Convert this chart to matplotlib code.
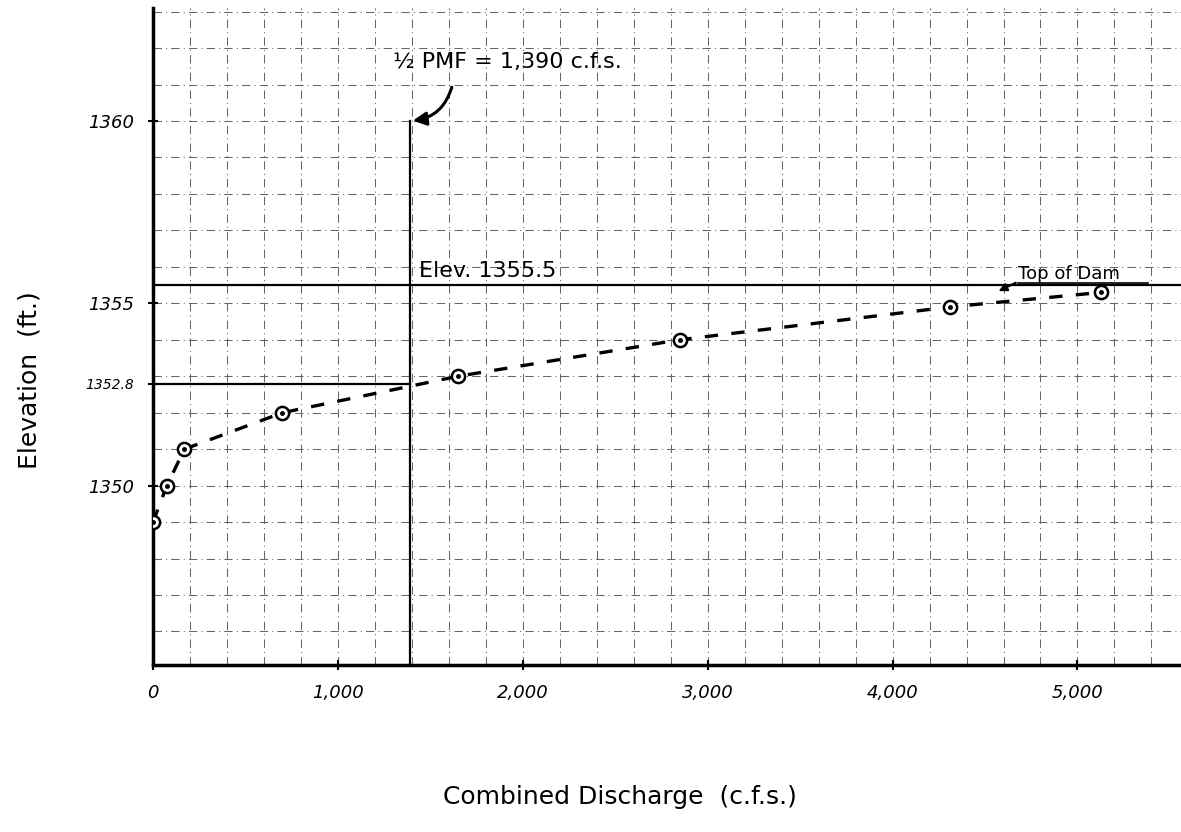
import matplotlib
matplotlib.use("Agg")
import matplotlib.pyplot as plt
import numpy as np

# Data
discharge_cfs = [0, 75, 170, 700, 1650, 2850, 4310, 5130]
elevation_ft = [1349.0, 1350.0, 1351.0, 1352.0, 1353.0, 1354.0, 1354.9, 1355.3]

x_ticks = [0, 1000, 2000, 3000, 4000, 5000]
x_tick_labels = ["0", "1,000", "2,000", "3,000", "4,000", "5,000"]
y_ticks = [1350, 1352.8, 1355, 1360]
y_tick_labels = ["1350", "1352.8", "1355", "1360"]

half_pmf_cfs = 1390
half_pmf_elev = 1352.8
top_of_dam_elev = 1355.5

x_min, x_max = 0, 5560
y_min, y_max = 1345.08, 1363.1

fig = plt.figure(figsize=(11.81, 8.32), dpi=100)
ax = fig.add_axes([153 / 1181, 1 - 665 / 832, 1 - 153 / 1181, (665 - 8) / 832])
ax.set_xlim(x_min, x_max)
ax.set_ylim(y_min, y_max)

# graph-paper style dash-dot grid
grid_style = dict(color="0.4", lw=0.75, linestyle=(0, (8, 4, 1, 4)), zorder=1)
for gx in np.arange(200, 5600, 200):
    ax.axvline(gx, **grid_style)
for gy in np.arange(1346, 1364, 1):
    ax.axhline(gy, **grid_style)

# solid reference lines
ax.axhline(top_of_dam_elev, color="black", lw=1.6, zorder=2)
ax.plot([x_min, half_pmf_cfs], [half_pmf_elev, half_pmf_elev], color="black", lw=1.6, zorder=2)
ax.plot([half_pmf_cfs, half_pmf_cfs], [y_min, 1360], color="black", lw=1.6, zorder=2)

# rating curve
ax.plot(discharge_cfs, elevation_ft, color="black", lw=2.4,
        linestyle=(0, (4, 4)), zorder=3)
ax.plot(discharge_cfs, elevation_ft, linestyle="none", marker="o", ms=9.5,
        mfc="white", mec="black", mew=1.8, zorder=4)
ax.plot(discharge_cfs, elevation_ft, linestyle="none", marker="o", ms=2.5,
        mfc="black", mec="black", zorder=5)

# spines and ticks
for s in ["top", "right"]:
    ax.spines[s].set_visible(False)
for s in ["left", "bottom"]:
    ax.spines[s].set_linewidth(2.5)
ax.set_xticks(x_ticks)
ax.set_xticklabels(x_tick_labels, fontsize=13, style="italic")
ax.set_yticks(y_ticks)
ax.set_yticklabels(y_tick_labels, style="italic")
for lbl, val in zip(ax.get_yticklabels(), y_ticks):
    lbl.set_fontsize(10 if val == 1352.8 else 13)
ax.tick_params(axis="both", direction="inout", length=7, width=1.5, pad=10)

# annotations
ax.text(1300, 1361.35, "½ PMF = 1,390 c.f.s.", fontsize=16, ha="left", va="bottom")
ax.annotate("", xy=(half_pmf_cfs, 1360.0), xytext=(1620, 1361.0),
            arrowprops=dict(arrowstyle="-|>", color="black", lw=2.2,
                            connectionstyle="arc3,rad=-0.35", mutation_scale=20))
ax.text(1440, 1355.6, "Elev. 1355.5", fontsize=16, ha="left", va="bottom")
ax.text(4680, 1355.55, "Top of Dam", fontsize=13, ha="left", va="bottom")
ax.plot([4680, 5380], [1355.55, 1355.55], color="black", lw=1.2, zorder=2)
ax.annotate("", xy=(4560, 1355.3), xytext=(4680, 1355.6),
            arrowprops=dict(arrowstyle="-|>", color="black", lw=1.5, mutation_scale=12))

fig.text(30 / 1181, 1 - 380 / 832, "Elevation  (ft.)", rotation=90, fontsize=18,
         ha="center", va="center")
fig.text(620 / 1181, 1 - 797 / 832, "Combined Discharge  (c.f.s.)", fontsize=18,
         ha="center", va="center")

fig.savefig("out.png", dpi=100)
